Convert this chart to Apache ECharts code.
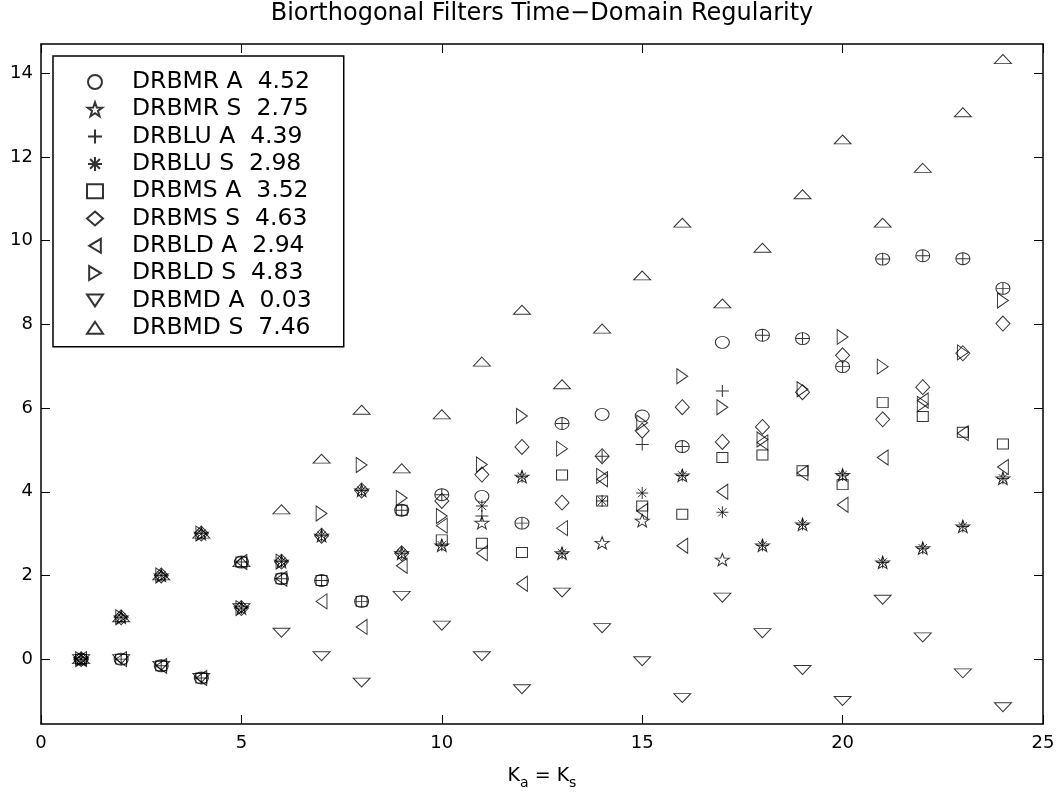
<!DOCTYPE html>
<html>
<head>
<meta charset="utf-8">
<title>Biorthogonal Filters Time-Domain Regularity</title>
<script src="https://cdn.jsdelivr.net/npm/echarts@6/dist/echarts.min.js"></script>
<style>
    html, body { margin: 0; padding: 0; background: #fff; }
    #chart { width: 1059px; height: 795px; }
</style>
</head>
<body>
<div id="chart"></div>
<script>
    // data
    var K = [1, 2, 3, 4, 5, 6, 7, 8, 9, 10, 11, 12, 13, 14, 15, 16, 17, 18, 19, 20, 21, 22, 23, 24];
    var yTicks = [0, 2, 4, 6, 8, 10, 12, 14];

    var names = ['DRBMR A  4.52', 'DRBMR S  2.75', 'DRBLU A  4.39', 'DRBLU S  2.98', 'DRBMS A  3.52',
        'DRBMS S  4.63', 'DRBLD A  2.94', 'DRBLD S  4.83', 'DRBMD A  0.03', 'DRBMD S  7.46'];

    var drbmrA = [0, 0, -0.16, -0.45, 2.32, 1.92, 1.88, 1.38, 3.56, 3.93, 3.89, 3.25, 5.63, 5.85, 5.81, 5.08, 7.57, 7.74, 7.66, 6.99, 9.56, 9.64, 9.57, 8.86];
    var drbmrS = [0, 1.0, 2.0, 3.0, 1.22, 2.33, 2.95, 4.03, 2.53, 2.72, 3.26, 4.36, 2.53, 2.78, 3.31, 4.39, 2.38, 2.72, 3.22, 4.40, 2.31, 2.65, 3.17, 4.32];
    var drbluA = [0, 0, -0.16, -0.45, 2.32, 1.92, 1.88, 1.38, 3.56, 3.93, 3.42, 3.25, 5.63, 4.85, 5.13, 5.08, 6.41, 7.74, 7.66, 6.99, 9.56, 9.64, 9.57, 8.86];
    var drbluS = [0, 1.0, 2.0, 3.0, 1.22, 2.33, 2.95, 4.03, 2.53, 2.72, 3.66, 4.36, 2.53, 3.78, 3.97, 4.39, 3.51, 2.72, 3.22, 4.40, 2.31, 2.65, 3.17, 4.32];
    var drbmsA = [0, 0, -0.16, -0.45, 2.32, 1.92, 1.88, 1.38, 3.56, 2.85, 2.77, 2.55, 4.40, 3.78, 3.66, 3.46, 4.82, 4.88, 4.50, 4.17, 6.13, 5.80, 5.42, 5.14];
    var drbmsS = [0, 1.0, 2.0, 3.0, 1.22, 2.33, 2.95, 4.03, 2.53, 3.78, 4.41, 5.07, 3.74, 4.85, 5.46, 6.02, 5.19, 5.55, 6.38, 7.26, 5.73, 6.50, 7.31, 8.02];
    var drbldA = [0, 0, -0.16, -0.45, 2.32, 1.92, 1.38, 0.77, 2.23, 3.19, 2.53, 1.80, 3.13, 4.30, 3.54, 2.71, 4.00, 5.18, 4.45, 3.69, 4.82, 6.18, 5.40, 4.59];
    var drbldS = [0, 1.0, 2.0, 3.0, 1.22, 2.33, 3.48, 4.64, 3.85, 3.42, 4.65, 5.81, 5.03, 4.38, 5.65, 6.76, 6.02, 5.25, 6.45, 7.70, 6.99, 6.10, 7.33, 8.57];
    var drbmdA = [0, 0, -0.16, -0.45, 1.22, 0.63, 0.07, -0.56, 1.51, 0.80, 0.07, -0.72, 1.59, 0.74, -0.05, -0.93, 1.47, 0.62, -0.26, -1.00, 1.42, 0.52, -0.34, -1.15];
    var drbmdS = [0, 1.0, 2.0, 3.0, 2.32, 3.58, 4.79, 5.96, 4.56, 5.85, 7.11, 8.35, 6.57, 7.90, 9.17, 10.43, 8.50, 9.83, 11.11, 12.42, 10.43, 11.74, 13.07, 14.34];

    var values = [drbmrA, drbmrS, drbluA, drbluS, drbmsA, drbmsS, drbldA, drbldS, drbmdA, drbmdS];

    var FONT = 'DejaVu Sans';

    // five pointed star outline
    function starPath() {
        var pts = [];
        for (var i = 0; i < 10; i++) {
            var r = i % 2 ? 0.4 : 1;
            var a = -Math.PI / 2 + i * Math.PI / 5;
            pts.push((10 + 10 * r * Math.cos(a)).toFixed(2) + ',' + (10 + 10 * r * Math.sin(a)).toFixed(2));
        }
        return 'path://M' + pts.join(' L') + ' Z';
    }

    var markers = [
        {symbol: 'circle', size: [14, 12]},
        {symbol: starPath(), size: [14, 13]},
        {symbol: 'path://M5,0 L5,10 M0,5 L10,5', size: [13, 12]},
        {symbol: 'path://M5,0 L5,10 M0,5 L10,5 M1.5,1.5 L8.5,8.5 M1.5,8.5 L8.5,1.5', size: [12, 12]},
        {symbol: 'rect', size: [11, 10]},
        {symbol: 'diamond', size: [14, 15]},
        {symbol: 'path://M10,0 L10,12 L0,6 Z', size: [13, 15]},
        {symbol: 'path://M0,0 L0,12 L10,6 Z', size: [13, 15]},
        {symbol: 'path://M0,0 L12,0 L6,9 Z', size: [17, 12]},
        {symbol: 'path://M6,0 L12,9 L0,9 Z', size: [17, 12]}
    ];

    var series = [];
    for (var s = 0; s < names.length; s++) {
        series.push({
            name: names[s],
            type: 'scatter',
            symbol: markers[s].symbol,
            symbolSize: markers[s].size,
            symbolKeepAspect: true,
            itemStyle: {color: 'rgba(0,0,0,0)', borderColor: '#000', borderWidth: 1},
            silent: true,
            animation: false,
            data: K.map(function (k, i) {
                return [k, values[s][i]];
            })
        });
    }

    var axisLine = {show: true, onZero: false, lineStyle: {color: '#000', width: 1.5}};
    var tick = {inside: true, length: 9, lineStyle: {color: '#000', width: 1}};

    var chart = echarts.init(document.getElementById('chart'));
    chart.setOption({
        backgroundColor: '#fff',
        animation: false,
        title: {
            text: 'Biorthogonal Filters Time\u2212Domain Regularity',
            left: 542,
            top: 2,
            padding: 0,
            textAlign: 'center',
            textStyle: {fontFamily: FONT, fontSize: 24, fontWeight: 'normal', color: '#000'}
        },
        grid: {left: 41, right: 16, top: 44, bottom: 58},
        legend: {
            orient: 'vertical',
            left: 53,
            top: 56,
            data: names,
            itemWidth: 16,
            itemHeight: 14,
            itemGap: 3.3,
            padding: [14, 32, 7, 33],
            borderColor: '#000',
            borderWidth: 1.5,
            backgroundColor: '#fff',
            selectedMode: false,
            textStyle: {fontFamily: FONT, fontSize: 23.5, color: '#000', padding: [0, 0, 0, 24]}
        },
        xAxis: [{
            type: 'value',
            min: 0,
            max: 25,
            interval: 5,
            position: 'bottom',
            axisLine: axisLine,
            axisTick: tick,
            splitLine: {show: false},
            axisLabel: {color: '#000', fontFamily: FONT, fontSize: 18, margin: 10},
            name: '{k|K}{s|a}{k| = K}{s|s}',
            nameLocation: 'middle',
            nameGap: 38,
            nameTextStyle: {
                rich: {
                    k: {fontFamily: FONT, fontSize: 19, color: '#000'},
                    s: {fontFamily: FONT, fontSize: 14, color: '#000', padding: [14, 0, 0, 0]}
                }
            }
        }, {
            type: 'value',
            min: 0,
            max: 25,
            interval: 5,
            position: 'top',
            axisLine: axisLine,
            axisTick: tick,
            splitLine: {show: false},
            axisLabel: {show: false}
        }],
        yAxis: [{
            type: 'value',
            min: -1.55,
            max: 14.7,
            position: 'left',
            axisLine: axisLine,
            axisTick: {inside: true, length: 9, lineStyle: {color: '#000', width: 1}, customValues: yTicks},
            splitLine: {show: false},
            axisLabel: {color: '#000', fontFamily: FONT, fontSize: 18, margin: 8, customValues: yTicks}
        }, {
            type: 'value',
            min: -1.55,
            max: 14.7,
            position: 'right',
            axisLine: axisLine,
            axisTick: {inside: true, length: 9, lineStyle: {color: '#000', width: 1}, customValues: yTicks},
            splitLine: {show: false},
            axisLabel: {show: false, customValues: yTicks}
        }],
        series: series
    });
</script>
</body>
</html>
